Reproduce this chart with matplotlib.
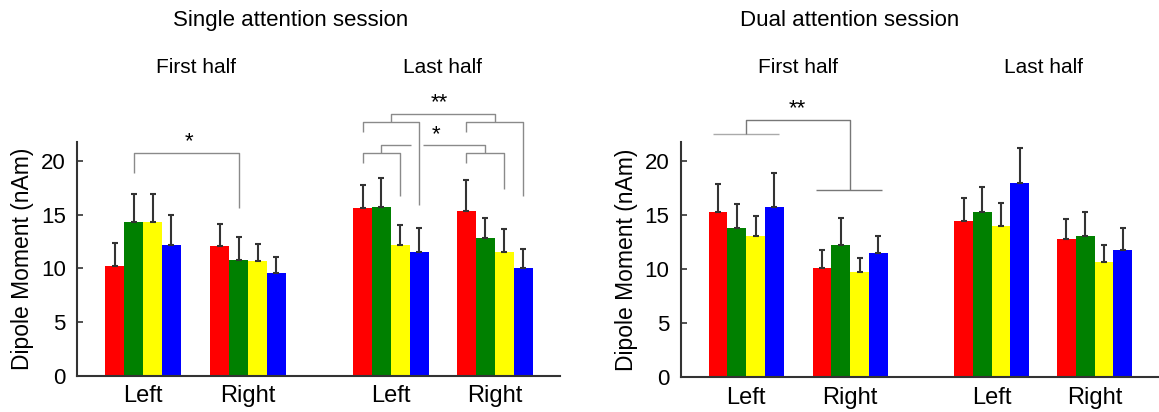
import matplotlib
matplotlib.use("Agg")
import matplotlib.pyplot as plt
import numpy as np

plt.rcParams['font.family'] = ['Liberation Sans', 'DejaVu Sans']

colors = ["#ff0000", "#008000", "#ffff00", "#0000ff"]
groups = ["Left", "Right", "Left", "Right"]

# mean and upper error-bar top (nAm), 4 conditions per group
single_mean = [[10.2, 14.3, 14.3, 12.2],
               [12.1, 10.8, 10.7, 9.6],
               [15.6, 15.7, 12.2, 11.5],
               [15.3, 12.8, 11.5, 10.0]]
single_top = [[12.4, 16.9, 16.9, 15.0],
              [14.1, 12.9, 12.3, 11.1],
              [17.8, 18.4, 14.0, 13.8],
              [18.2, 14.7, 13.7, 11.8]]
dual_mean = [[15.3, 13.8, 13.1, 15.8],
             [10.1, 12.2, 9.7, 11.5],
             [14.5, 15.3, 14.0, 18.0],
             [12.8, 13.1, 10.7, 11.8]]
dual_top = [[17.9, 16.0, 14.9, 18.9],
            [11.8, 14.7, 11.0, 13.1],
            [16.6, 17.6, 16.1, 21.2],
            [14.6, 15.3, 12.2, 13.8]]

pos = np.array([0, 1, 2.36, 3.35])
w = 0.18
offs = np.array([-1.5, -0.5, 0.5, 1.5]) * w

fig = plt.figure(figsize=(11.59, 4.12), dpi=100)
ax1 = fig.add_axes([0.0664, 0.0881, 0.4167, 0.568])
ax2 = fig.add_axes([0.5873, 0.0842, 0.4127, 0.572])

gray = "#8a8a8a"


def seg(ax, xs, ys, c=gray):
    ax.plot(xs, ys, color=c, lw=1.0, clip_on=False, solid_capstyle='butt')


def panel(ax, means, tops):
    means = np.array(means)
    tops = np.array(tops)
    for i in range(4):
        x = pos + offs[i]
        ax.bar(x, means[:, i], width=w, color=colors[i], zorder=2)
        ax.errorbar(x, means[:, i], yerr=[np.zeros(4), tops[:, i] - means[:, i]],
                    fmt='none', ecolor='#333333', elinewidth=1.5, capsize=2.5,
                    capthick=1.5, zorder=3)
    ax.set_xlim(-0.63, 3.97)
    ax.set_ylim(0, 21.8)
    ax.set_yticks([0, 5, 10, 15, 20])
    ax.set_xticks(pos)
    ax.set_xticklabels(groups, fontsize=17)
    ax.tick_params(axis='x', length=0, pad=7)
    ax.tick_params(axis='y', direction='in', length=4, width=1.2, labelsize=16,
                   pad=8, color='#333333')
    for s in ['top', 'right']:
        ax.spines[s].set_visible(False)
    for s in ['left', 'bottom']:
        ax.spines[s].set_linewidth(1.5)
        ax.spines[s].set_color('#333333')
    ax.set_ylabel("Dipole Moment (nAm)", fontsize=16.5, labelpad=5)
    ax.text((pos[0] + pos[1]) / 2, 1.315, "First half", transform=ax.get_xaxis_transform(),
            ha='center', va='center', fontsize=15)
    ax.text((pos[2] + pos[3]) / 2, 1.315, "Last half", transform=ax.get_xaxis_transform(),
            ha='center', va='center', fontsize=15)


panel(ax1, single_mean, single_top)
panel(ax2, dual_mean, dual_top)

fig.text(0.251, 0.951, "Single attention session", ha='center', va='center', fontsize=16)
fig.text(0.733, 0.951, "Dual attention session", ha='center', va='center', fontsize=16)

# significance brackets, single session
g = pos[:, None] + offs[None, :]
seg(ax1, [g[0, 1], g[0, 1], g[1, 1], g[1, 1]], [18.9, 20.7, 20.7, 15.6])
ax1.text(0.44, 20.8, "*", ha='center', va='bottom', fontsize=16)

seg(ax1, [g[2, 0], g[2, 0], g[2, 3], g[2, 3]], [22.7, 23.6, 23.6, 15.9])
seg(ax1, [g[3, 0], g[3, 0], g[3, 3], g[3, 3]], [22.7, 23.6, 23.6, 16.7])
seg(ax1, [pos[2], pos[2], pos[3], pos[3]], [23.6, 24.4, 24.4, 23.6])
ax1.text(2.82, 24.5, "**", ha='center', va='bottom', fontsize=16)

seg(ax1, [g[2, 0], g[2, 0], g[2, 2], g[2, 2]], [19.8, 20.7, 20.7, 16.7])
seg(ax1, [g[3, 0], g[3, 0], g[3, 2], g[3, 2]], [19.8, 20.7, 20.7, 17.4])
m1 = (g[2, 0] + g[2, 2]) / 2
m2 = (g[3, 0] + g[3, 2]) / 2
seg(ax1, [m1, m1, 2.55], [20.7, 21.5, 21.5])
seg(ax1, [2.67, m2, m2], [21.5, 21.5, 20.7])
ax1.text(2.79, 21.5, "*", ha='center', va='bottom', fontsize=16)

# significance brackets, dual session
seg(ax2, [pos[0] - 0.32, pos[0] + 0.32], [22.5, 22.5], c="#aaaaaa")
seg(ax2, [pos[0], pos[0], pos[1], pos[1]], [22.5, 23.8, 23.8, 17.3], c="#777777")
seg(ax2, [pos[1] - 0.33, pos[1] + 0.31], [17.3, 17.3], c="#777777")
ax2.text(0.49, 23.9, "**", ha='center', va='bottom', fontsize=16)

fig.savefig("out.png", dpi=100)
